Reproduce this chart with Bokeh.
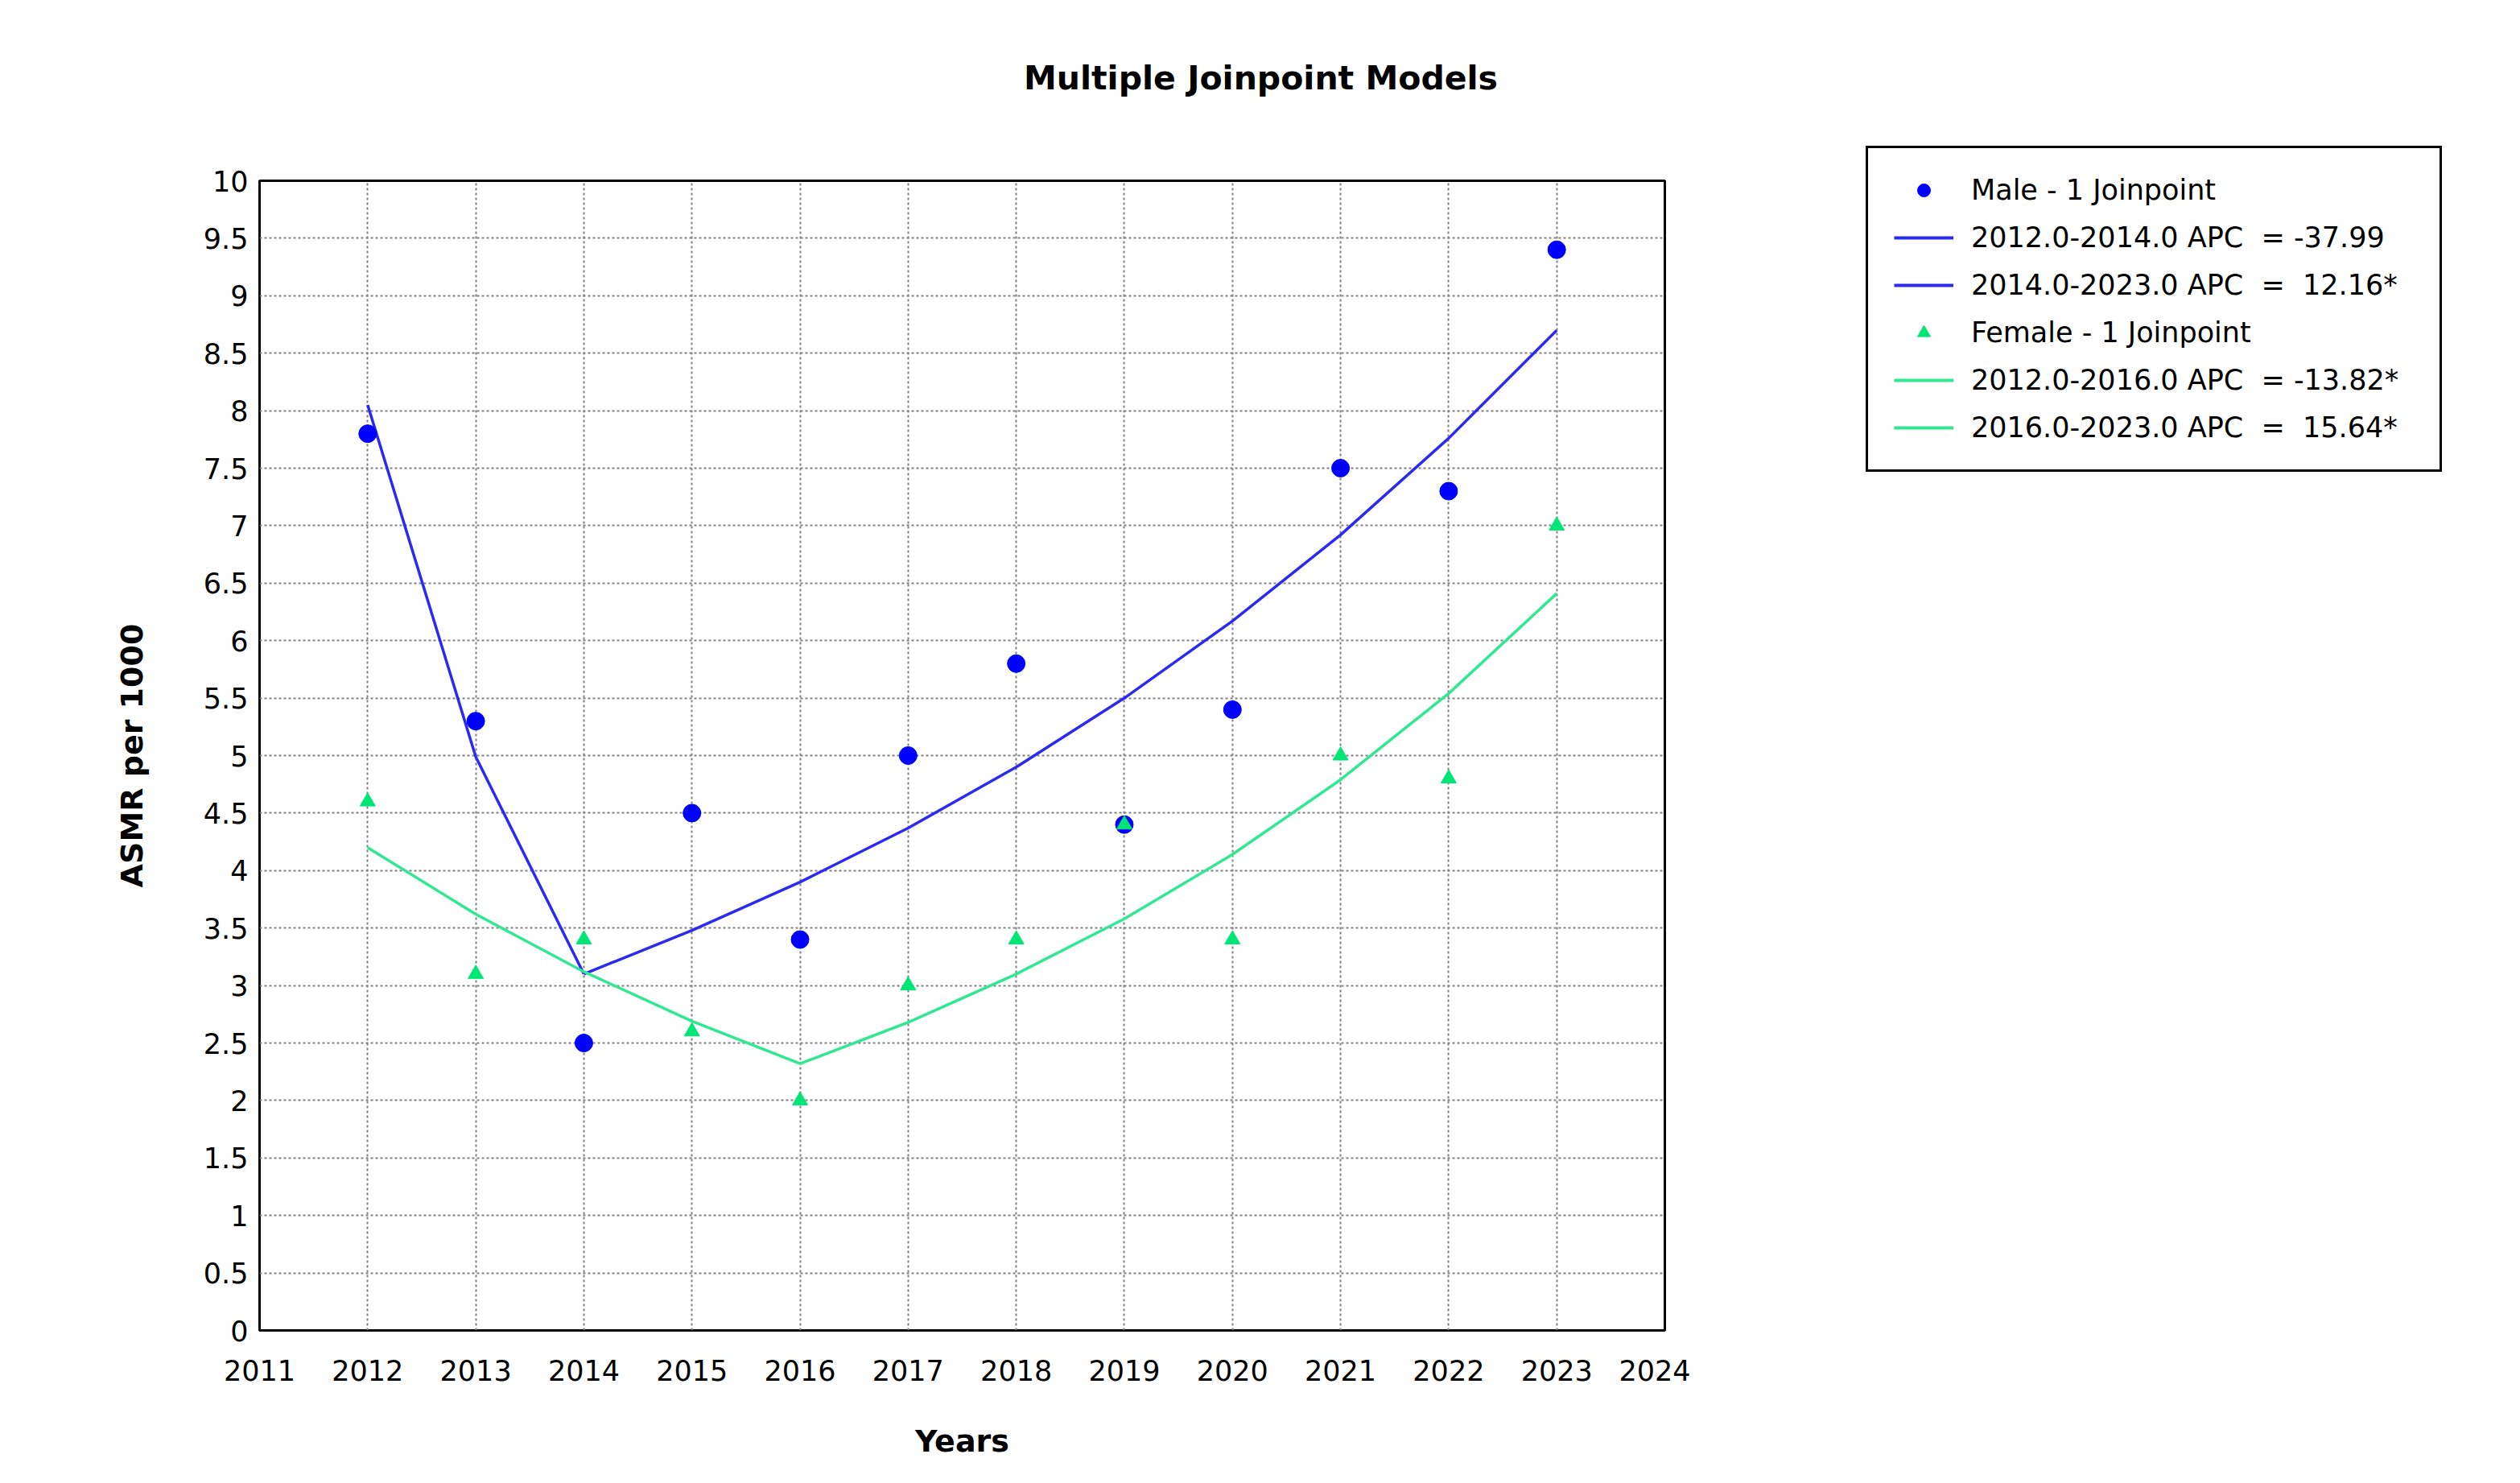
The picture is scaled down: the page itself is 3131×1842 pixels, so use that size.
from bokeh.plotting import figure
from bokeh.layouts import column, row
from bokeh.models import Range1d, Legend, LegendItem, FixedTicker, Label
from bokeh.embed import file_html
from bokeh.resources import INLINE

# ---------------- data ----------------
years = [2012, 2013, 2014, 2015, 2016, 2017, 2018, 2019, 2020, 2021, 2022, 2023]
male_asmr = [7.8, 5.3, 2.5, 4.5, 3.4, 5.0, 5.8, 4.4, 5.4, 7.5, 7.3, 9.4]
female_asmr = [4.6, 3.1, 3.4, 2.6, 2.0, 3.0, 3.4, 4.4, 3.4, 5.0, 4.8, 7.0]

male_seg1_years = [2012, 2013, 2014]
male_seg1_fit = [8.05, 4.99, 3.10]
male_seg2_years = [2014, 2015, 2016, 2017, 2018, 2019, 2020, 2021, 2022, 2023]
male_seg2_fit = [3.10, 3.48, 3.90, 4.37, 4.90, 5.50, 6.17, 6.92, 7.76, 8.70]

female_seg1_years = [2012, 2013, 2014, 2015, 2016]
female_seg1_fit = [4.20, 3.62, 3.12, 2.69, 2.32]
female_seg2_years = [2016, 2017, 2018, 2019, 2020, 2021, 2022, 2023]
female_seg2_fit = [2.32, 2.68, 3.10, 3.58, 4.14, 4.79, 5.54, 6.41]

title_text = "Multiple Joinpoint Models"
x_label = "Years"
y_label = "ASMR per 1000"

legend_labels = [
    "Male - 1 Joinpoint",
    "2012.0-2014.0 APC  = -37.99",
    "2014.0-2023.0 APC  =  12.16*",
    "Female - 1 Joinpoint",
    "2012.0-2016.0 APC  = -13.82*",
    "2016.0-2023.0 APC  =  15.64*",
]

x_ticks = [2011, 2012, 2013, 2014, 2015, 2016, 2017, 2018, 2019, 2020, 2021, 2022, 2023, 2024]
y_ticks = [0, 0.5, 1, 1.5, 2, 2.5, 3, 3.5, 4, 4.5, 5, 5.5, 6, 6.5, 7, 7.5, 8, 8.5, 9, 9.5, 10]
y_tick_labels = ["0", "0.5", "1", "1.5", "2", "2.5", "3", "3.5", "4", "4.5", "5",
                 "5.5", "6", "6.5", "7", "7.5", "8", "8.5", "9", "9.5", "10"]

# ---------------- styling ----------------
MALE_PT = "#0000ff"
MALE_LN = "#2a2af0"
FEM_PT = "#00e676"
FEM_LN = "#30e890"
FONT = "DejaVu Sans"

W, H = 3131, 1842
TOP_H = 160                 # band that holds the title
FL, FR, FT, FB = 322, 2068, 224, 1652
MAIN_W = 2100
BODY_H = H - TOP_H


def bare(fig):
    fig.axis.visible = False
    fig.grid.visible = False
    fig.outline_line_color = None
    fig.background_fill_color = "white"
    fig.border_fill_color = "white"
    return fig


# ---- title band ----
pt = bare(figure(width=W, height=TOP_H, output_backend="svg", toolbar_location=None,
                 x_range=Range1d(0, W), y_range=Range1d(0, TOP_H), title=None,
                 min_border=0, min_border_left=0, min_border_right=0,
                 min_border_top=0, min_border_bottom=0))
pt.add_layout(Label(x=1566, y=TOP_H - 96, x_units="screen", y_units="screen",
                    text=title_text, text_font=FONT, text_font_size="41px",
                    text_font_style="bold", text_color="black",
                    text_align="center", text_baseline="middle"))

# ---- main plot ----
p = figure(width=MAIN_W, height=BODY_H, output_backend="svg", toolbar_location=None,
           x_range=Range1d(x_ticks[0], x_ticks[-1]), y_range=Range1d(y_ticks[0], y_ticks[-1]),
           min_border_left=FL, min_border_right=MAIN_W - FR, min_border_top=FT - TOP_H,
           min_border_bottom=H - FB, title=None)

p.background_fill_color = "white"
p.border_fill_color = "white"
p.outline_line_color = "black"
p.outline_line_alpha = 1.0
p.outline_line_width = 3

p.xaxis.ticker = FixedTicker(ticks=x_ticks)
p.yaxis.ticker = FixedTicker(ticks=y_ticks)
p.yaxis.major_label_overrides = {t: l for t, l in zip(y_ticks, y_tick_labels)}
p.xaxis.major_label_overrides = {t: str(t) for t in x_ticks}

for ax in (p.xaxis[0], p.yaxis[0]):
    ax.axis_line_color = None
    ax.major_tick_line_color = None
    ax.minor_tick_line_color = None
    ax.major_label_text_font = FONT
    ax.major_label_text_font_size = "35px"
    ax.major_label_text_color = "black"
    ax.axis_label_text_font = FONT
    ax.axis_label_text_font_size = "38px"
    ax.axis_label_text_font_style = "bold"
    ax.axis_label_text_color = "black"

p.xaxis.axis_label = x_label
p.yaxis.axis_label = y_label
p.xaxis.major_label_standoff = 30
p.yaxis.major_label_standoff = 8
p.xaxis.axis_label_standoff = 50
p.yaxis.axis_label_standoff = 64

for g in (p.xgrid[0], p.ygrid[0]):
    g.grid_line_color = "#808080"
    g.grid_line_width = 2
    g.grid_line_dash = "3 3"
p.xgrid.ticker = FixedTicker(ticks=x_ticks)
p.ygrid.ticker = FixedTicker(ticks=y_ticks)

p.line(male_seg1_years, male_seg1_fit, line_color=MALE_LN, line_width=3.5)
p.line(male_seg2_years, male_seg2_fit, line_color=MALE_LN, line_width=3.5)
p.line(female_seg1_years, female_seg1_fit, line_color=FEM_LN, line_width=3.5)
p.line(female_seg2_years, female_seg2_fit, line_color=FEM_LN, line_width=3.5)
p.scatter(years, male_asmr, marker="circle", size=22, fill_color=MALE_PT, line_color=MALE_PT)
p.scatter(years, female_asmr, marker="triangle", size=19, fill_color=FEM_PT, line_color=FEM_PT)

# ---- legend panel: key renderers reuse the series but lie outside this panel's ranges ----
LW = W - MAIN_W
pl = bare(figure(width=LW, height=BODY_H, output_backend="svg", toolbar_location=None,
                 x_range=Range1d(0, 1), y_range=Range1d(0, 1), title=None,
                 min_border=0, min_border_left=0, min_border_right=0,
                 min_border_top=0, min_border_bottom=0))
pl.frame_align = False
k_mp = pl.scatter(years, male_asmr, marker="circle", size=14, fill_color=MALE_PT, line_color=MALE_PT)
k_m1 = pl.line(male_seg1_years, male_seg1_fit, line_color=MALE_LN, line_width=4)
k_m2 = pl.line(male_seg2_years, male_seg2_fit, line_color=MALE_LN, line_width=4)
k_fp = pl.scatter(years, female_asmr, marker="triangle", size=12, fill_color=FEM_PT, line_color=FEM_PT)
k_f1 = pl.line(female_seg1_years, female_seg1_fit, line_color=FEM_LN, line_width=4)
k_f2 = pl.line(female_seg2_years, female_seg2_fit, line_color=FEM_LN, line_width=4)

items = [LegendItem(label=lab, renderers=[r]) for lab, r in
         zip(legend_labels, [k_mp, k_m1, k_m2, k_fp, k_f1, k_f2])]
legend = Legend(items=items, location=(2318 - MAIN_W, H - 586))
legend.label_text_font = FONT
legend.label_text_font_size = "35px"
legend.label_text_color = "black"
legend.label_height = 40
legend.label_width = 550
legend.glyph_height = 40
legend.glyph_width = 74
legend.label_standoff = 22
legend.spacing = 19
legend.padding = 32
legend.margin = 0
legend.border_line_color = "black"
legend.border_line_alpha = 1.0
legend.border_line_width = 3
legend.background_fill_color = "white"
legend.background_fill_alpha = 1.0
pl.add_layout(legend, "center")

layout = column(pt, row(p, pl, spacing=0), spacing=0)
open("out.html", "w").write(file_html(layout, INLINE))
